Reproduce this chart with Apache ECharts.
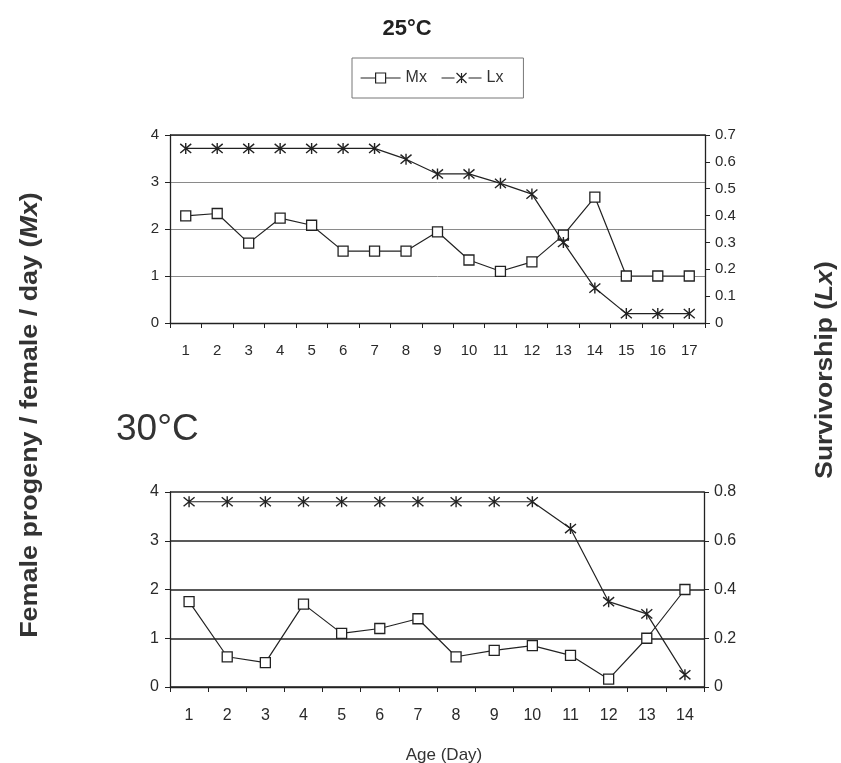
<!DOCTYPE html>
<html>
<head>
<meta charset="utf-8">
<script src="https://cdn.jsdelivr.net/npm/echarts@6/dist/echarts.min.js"></script>
<style>html,body{margin:0;padding:0;background:#fff}#c{width:841px;height:763px}</style>
</head>
<body>
<div id="c"></div>
<script>
var days25 = ['1','2','3','4','5','6','7','8','9','10','11','12','13','14','15','16','17'];
var mx25 = [2.28, 2.33, 1.7, 2.23, 2.08, 1.53, 1.53, 1.53, 1.94, 1.34, 1.1, 1.3, 1.87, 2.68, 1.0, 1.0, 1.0];
var lx25 = [0.65, 0.65, 0.65, 0.65, 0.65, 0.65, 0.65, 0.61, 0.555, 0.555, 0.52, 0.48, 0.30, 0.13, 0.035, 0.035, 0.035];
var days30 = ['1','2','3','4','5','6','7','8','9','10','11','12','13','14'];
var mx30 = [1.75, 0.62, 0.5, 1.7, 1.1, 1.2, 1.4, 0.62, 0.75, 0.85, 0.65, 0.16, 1.0, 2.0];
var lx30 = [0.76, 0.76, 0.76, 0.76, 0.76, 0.76, 0.76, 0.76, 0.76, 0.76, 0.65, 0.35, 0.30, 0.05];

var FONT = '"Liberation Sans", Arial, sans-serif';
var TXT = '#2a2a2a';
var star = 'path://M0,0L10,10M10,0L0,10M5,-1L5,11';
var mxIcon = 'path://M0,5L15,5M25,5L40,5M15,0L25,0L25,10L15,10Z';
var lxIcon = 'path://M0,5L13,5M27,5L40,5M15,0L25,10M25,0L15,10M20,0L20,10';

function xAxis(gi, cats, margin, fs) {
  return {
    type: 'category', gridIndex: gi, data: cats, boundaryGap: true,
    axisLine: {lineStyle: {color: '#222', width: 1.3}},
    axisTick: {show: true, length: 5, lineStyle: {color: '#222'}},
    axisLabel: {color: TXT, fontFamily: FONT, fontSize: fs, margin: margin},
    splitLine: {show: false}
  };
}
function leftY(gi, gridColor, gridWidth, fs) {
  return {
    type: 'value', gridIndex: gi, min: 0, max: 4, interval: 1, position: 'left',
    axisLine: {show: true, lineStyle: {color: '#222', width: 1.3}},
    axisTick: {show: true, length: 5, lineStyle: {color: '#222'}},
    axisLabel: {color: TXT, fontFamily: FONT, fontSize: fs, margin: 11},
    splitLine: {show: true, lineStyle: {color: gridColor, width: gridWidth}}
  };
}
function rightY(gi, max, interval, fs) {
  return {
    type: 'value', gridIndex: gi, min: 0, max: max, interval: interval, position: 'right',
    axisLine: {show: true, lineStyle: {color: '#222', width: 1.3}},
    axisTick: {show: true, length: 5, lineStyle: {color: '#222'}},
    axisLabel: {color: TXT, fontFamily: FONT, fontSize: fs, margin: 10,
      formatter: function (v) { return String(Math.round(v * 10) / 10); }},
    splitLine: {show: false}
  };
}
function mxSeries(xi, yi, data) {
  return {
    name: 'Mx', type: 'line', xAxisIndex: xi, yAxisIndex: yi, data: data,
    symbol: 'rect', symbolSize: 10, showAllSymbol: true,
    lineStyle: {color: '#222', width: 1.2},
    itemStyle: {color: '#fff', borderColor: '#222', borderWidth: 1.3},
    z: 3
  };
}
function lxSeries(xi, yi, data) {
  return {
    name: 'Lx', type: 'line', xAxisIndex: xi, yAxisIndex: yi, data: data,
    symbol: star, symbolSize: 11, showAllSymbol: true,
    lineStyle: {color: '#222', width: 1.2},
    itemStyle: {color: '#222', borderColor: '#222', borderWidth: 1.4},
    z: 4
  };
}
var titleRich = function (fs) {
  return {
    b: {fontFamily: FONT, fontSize: fs, fontWeight: 'bold', fill: '#333'},
    i: {fontFamily: FONT, fontSize: fs, fontWeight: 'bold', fontStyle: 'italic', fill: '#333'}
  };
};

var chart = echarts.init(document.getElementById('c'), null, {renderer: 'canvas'});
chart.setOption({
  backgroundColor: '#fff',
  animation: false,
  textStyle: {fontFamily: FONT},
  title: [
    {text: '25°C', left: 402, top: 13, textAlign: 'center',
     textStyle: {fontFamily: FONT, fontSize: 22, fontWeight: 'bold', color: '#222'}},
    {text: '30°C', left: 111, top: 406,
     textStyle: {fontFamily: FONT, fontSize: 37, fontWeight: 'normal', color: '#333'}},
    {text: 'Age (Day)', left: 439, top: 742, textAlign: 'center',
     textStyle: {fontFamily: FONT, fontSize: 17, fontWeight: 'normal', color: '#333'}}
  ],
  legend: {
    data: [{name: 'Mx', icon: mxIcon}, {name: 'Lx', icon: lxIcon}],
    left: 352, top: 58,
    padding: [12, 20, 12, 8], itemGap: 14, itemWidth: 40, itemHeight: 10,
    borderColor: '#777', borderWidth: 1,
    itemStyle: {borderWidth: 1.2},
    textStyle: {fontFamily: FONT, fontSize: 16, color: '#333'},
    selectedMode: false
  },
  grid: [
    {left: 170, right: 136, top: 135, height: 188},
    {left: 170, right: 137, top: 492, height: 195}
  ],
  xAxis: [xAxis(0, days25, 20, 15), xAxis(1, days30, 21, 16)],
  yAxis: [leftY(0, '#8a8a8a', 1, 15), rightY(0, 0.7, 0.1, 15), leftY(1, '#222', 1.7, 16), rightY(1, 0.8, 0.2, 16)],
  series: [
    mxSeries(0, 0, mx25), lxSeries(0, 1, lx25),
    mxSeries(1, 2, mx30), lxSeries(1, 3, lx30)
  ],
  graphic: [
    {type: 'line', shape: {x1: 170, y1: 135, x2: 705, y2: 135}, style: {stroke: '#222', lineWidth: 1.3}, z: 5},
    {type: 'text', x: 31, y: 415, rotation: Math.PI / 2, scaleX: 1.17, origin: [0, 0],
     style: {text: '{b|Female progeny / female / day (}{i|Mx}{b|)}', align: 'center', verticalAlign: 'middle',
       rich: titleRich(23)}},
    {type: 'text', x: 826, y: 370, rotation: Math.PI / 2, scaleX: 1.15, origin: [0, 0],
     style: {text: '{b|Survivorship (}{i|Lx}{b|)}', align: 'center', verticalAlign: 'middle',
       rich: titleRich(23)}}
  ]
});
</script>
</body>
</html>
